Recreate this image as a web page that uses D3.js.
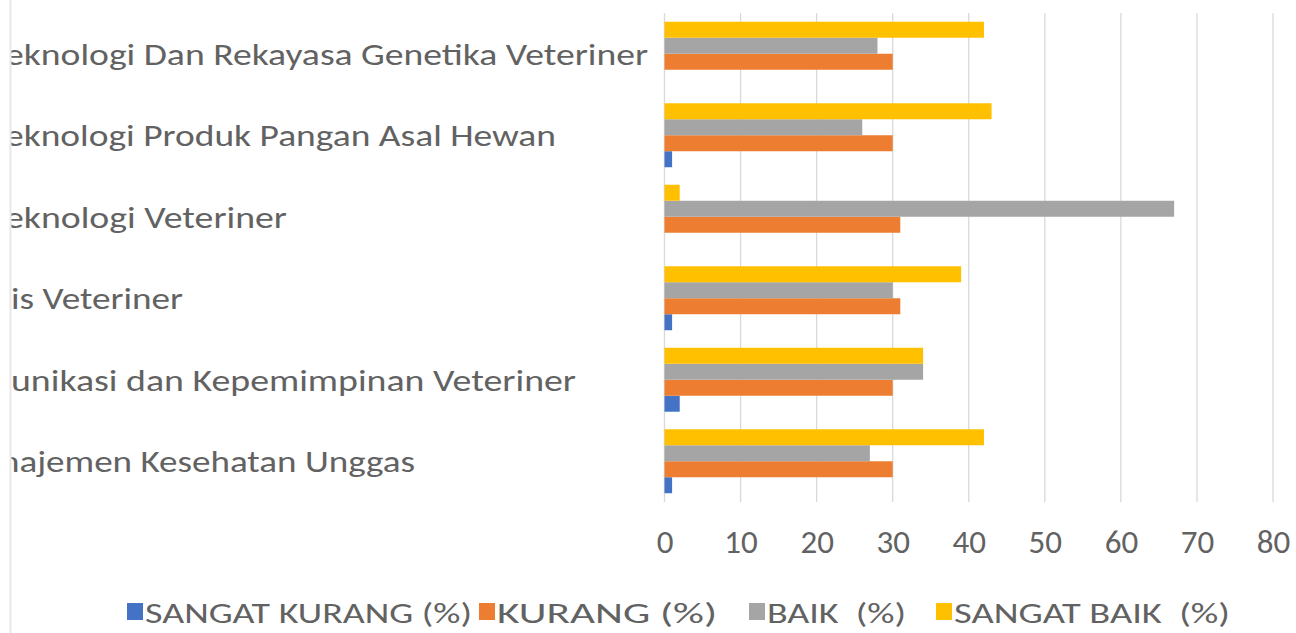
<!DOCTYPE html>
<html><head><meta charset="utf-8">
<script src="https://cdn.jsdelivr.net/npm/d3@7"></script>
<style>body{margin:0;background:#fff;}svg{display:block;font-family:Carlito,"Open Sans",sans-serif;}</style>
</head><body>
<svg id="c" width="1296" height="633"></svg>
<script>
const categories = [
  "eknologi Dan Rekayasa Genetika Veteriner",
  "eknologi Produk Pangan Asal Hewan",
  "eknologi Veteriner",
  "is Veteriner",
  "unikasi dan Kepemimpinan Veteriner",
  "najemen Kesehatan Unggas"
];
const seriesNames = ["SANGAT KURANG (%)", "KURANG (%)", "BAIK  (%)", "SANGAT BAIK  (%)"];
const sangatKurang = [0, 1, 0, 1, 2, 1];
const kurang = [30, 30, 31, 31, 30, 30];
const baik = [28, 26, 67, 30, 34, 27];
const sangatBaik = [42, 43, 2, 39, 34, 42];
const xTicks = [0, 10, 20, 30, 40, 50, 60, 70, 80];
const colors = ["#4472C4", "#ED7D31", "#A5A5A5", "#FFC000"];

const seriesValues = [sangatKurang, kurang, baik, sangatBaik];
const svg = d3.select("#c");
const textColor = "#626262";

const x = d3.scaleLinear().domain([0, 80]).range([664.5, 1273]);
const y = d3.scaleBand().domain(categories).range([13, 502]).paddingInner(0.215).paddingOuter(0.1075);
const sub = d3.scaleBand().domain([3, 2, 1, 0]).range([0, y.bandwidth()]);

// left border of cropped chart
svg.append("line").attr("x1", 10.5).attr("x2", 10.5).attr("y1", 0).attr("y2", 633)
  .attr("stroke", "#e8e8e8").attr("stroke-width", 2);

// gridlines
svg.append("g").selectAll("line").data(xTicks).join("line")
  .attr("x1", d => x(d)).attr("x2", d => x(d))
  .attr("y1", 13).attr("y2", 502)
  .attr("stroke", "#D9D9D9").attr("stroke-width", 1.3);

// bars
const groups = svg.append("g").selectAll("g").data(categories).join("g")
  .attr("transform", c => `translate(0,${y(c)})`);
groups.selectAll("rect").data((c, i) => seriesValues.map((s, k) => ({k, v: s[i]})))
  .join("rect")
  .attr("x", x(0))
  .attr("y", d => sub(d.k))
  .attr("height", sub.bandwidth())
  .attr("width", d => x(d.v) - x(0))
  .attr("fill", d => colors[d.k]);

// category labels (cropped on the left, as in the reference)
const labelStart = [5, 5, 5, 11, 11, 0];
const labelEnds = [648, 556, 287, 183, 576, 415];
svg.append("defs").append("clipPath").attr("id", "clipL")
  .append("rect").attr("x", 11.5).attr("y", 0).attr("width", 700).attr("height", 633);
svg.append("g").attr("clip-path", "url(#clipL)").selectAll("text").data(categories).join("text")
  .attr("x", (c, i) => labelStart[i])
  .attr("y", c => y(c) + y.bandwidth() / 2 + 11)
  .attr("font-size", 31)
  .attr("fill", textColor)
  .attr("textLength", (c, i) => labelEnds[i] - labelStart[i])
  .attr("lengthAdjust", "spacingAndGlyphs")
  .text(c => c);

// x axis tick labels
const xAxis = d3.axisBottom(x).tickValues(xTicks).tickSize(0).tickPadding(0);
const ax = svg.append("g").attr("transform", "translate(0,553)").call(xAxis);
ax.select(".domain").remove();
ax.selectAll("text").attr("font-size", 33).attr("fill", textColor)
  .attr("font-family", "Carlito,'Open Sans',sans-serif").attr("dy", 0).attr("y", 0);

// legend
const legendX = [127, 479, 749, 936];
const legendTextEnd = [472, 717, 906, 1230];
const lg = svg.append("g").selectAll("g").data(seriesNames).join("g");
lg.append("rect").attr("x", (d, i) => legendX[i]).attr("y", 603).attr("width", 16).attr("height", 17)
  .attr("fill", (d, i) => colors[i]);
lg.append("text").attr("x", (d, i) => legendX[i] + 18).attr("y", 623)
  .attr("font-size", 29).attr("fill", textColor)
  .attr("textLength", (d, i) => legendTextEnd[i] - legendX[i] - 18)
  .attr("lengthAdjust", "spacingAndGlyphs")
  .attr("xml:space", "preserve")
  .style("white-space", "pre")
  .text(d => d);
</script>
</body></html>
